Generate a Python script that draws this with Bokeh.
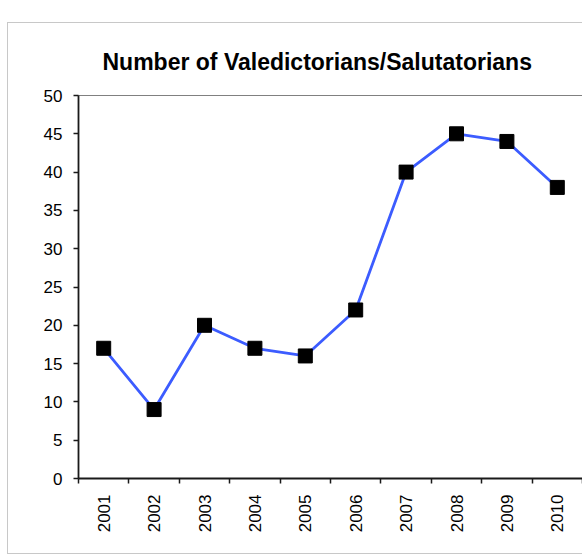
from bokeh.plotting import figure
from bokeh.models import FixedTicker, Spacer
from bokeh.layouts import column, row
from bokeh.embed import file_html
from bokeh.resources import INLINE

years = [2001, 2002, 2003, 2004, 2005, 2006, 2007, 2008, 2009, 2010]
counts = [17, 9, 20, 17, 16, 22, 40, 45, 44, 38]
y_ticks = [0, 5, 10, 15, 20, 25, 30, 35, 40, 45, 50]
title_text = "Number of Valedictorians/Salutatorians"

FONT = "Liberation Sans"

p = figure(width=575, height=532, output_backend="svg", toolbar_location=None,
           x_range=(years[0] - 0.5, years[-1] + 0.5), y_range=(0, 50),
           min_border_left=70, min_border_right=1, min_border_top=72, min_border_bottom=77)

p.styles = {"border-left": "1px solid #c8c8c8", "border-top": "1px solid #c8c8c8",
            "border-bottom": "1px solid #c8c8c8"}

p.title.text = title_text
p.title.align = "left"
p.title.text_font = FONT
p.title.text_font_size = "23px"
p.title.text_font_style = "bold"
p.title.text_color = "#000000"
p.title.offset = 24
p.title.standoff = 42

p.xgrid.visible = False
p.ygrid.visible = False
p.background_fill_color = "white"
p.border_fill_color = "white"
p.outline_line_color = "#808080"
p.outline_line_width = 1

p.line(years, counts, line_color="#3c5cff", line_width=2.8)
p.scatter(years, counts, marker="square", size=14, fill_color="black", line_color="black")

minor = [y - 0.5 for y in years] + [years[-1] + 0.5]
p.xaxis.ticker = FixedTicker(ticks=years, minor_ticks=minor)
p.xaxis.major_tick_out = 0
p.xaxis.major_tick_in = 0
p.xaxis.minor_tick_out = 5
p.xaxis.minor_tick_in = 0
p.xaxis.minor_tick_line_color = "#1a1a1a"
p.xaxis.minor_tick_line_width = 1.5
p.xaxis.major_label_orientation = 1.5707963
p.xaxis.major_label_standoff = 11

p.yaxis.ticker = FixedTicker(ticks=y_ticks, minor_ticks=[])
p.yaxis.major_tick_out = 5
p.yaxis.major_tick_in = 0
p.yaxis.major_label_standoff = 11

for ax in (p.xaxis, p.yaxis):
    ax.axis_line_color = "#1a1a1a"
    ax.axis_line_width = 1.8
    ax.major_tick_line_color = "#1a1a1a"
    ax.major_tick_line_width = 1.5
    ax.major_label_text_font = FONT
    ax.major_label_text_font_size = "17px"
    ax.major_label_text_color = "#000000"

layout = row(Spacer(width=7, height=10), column(Spacer(height=22, width=10), p))
open("out.html", "w").write(file_html(layout, INLINE))
